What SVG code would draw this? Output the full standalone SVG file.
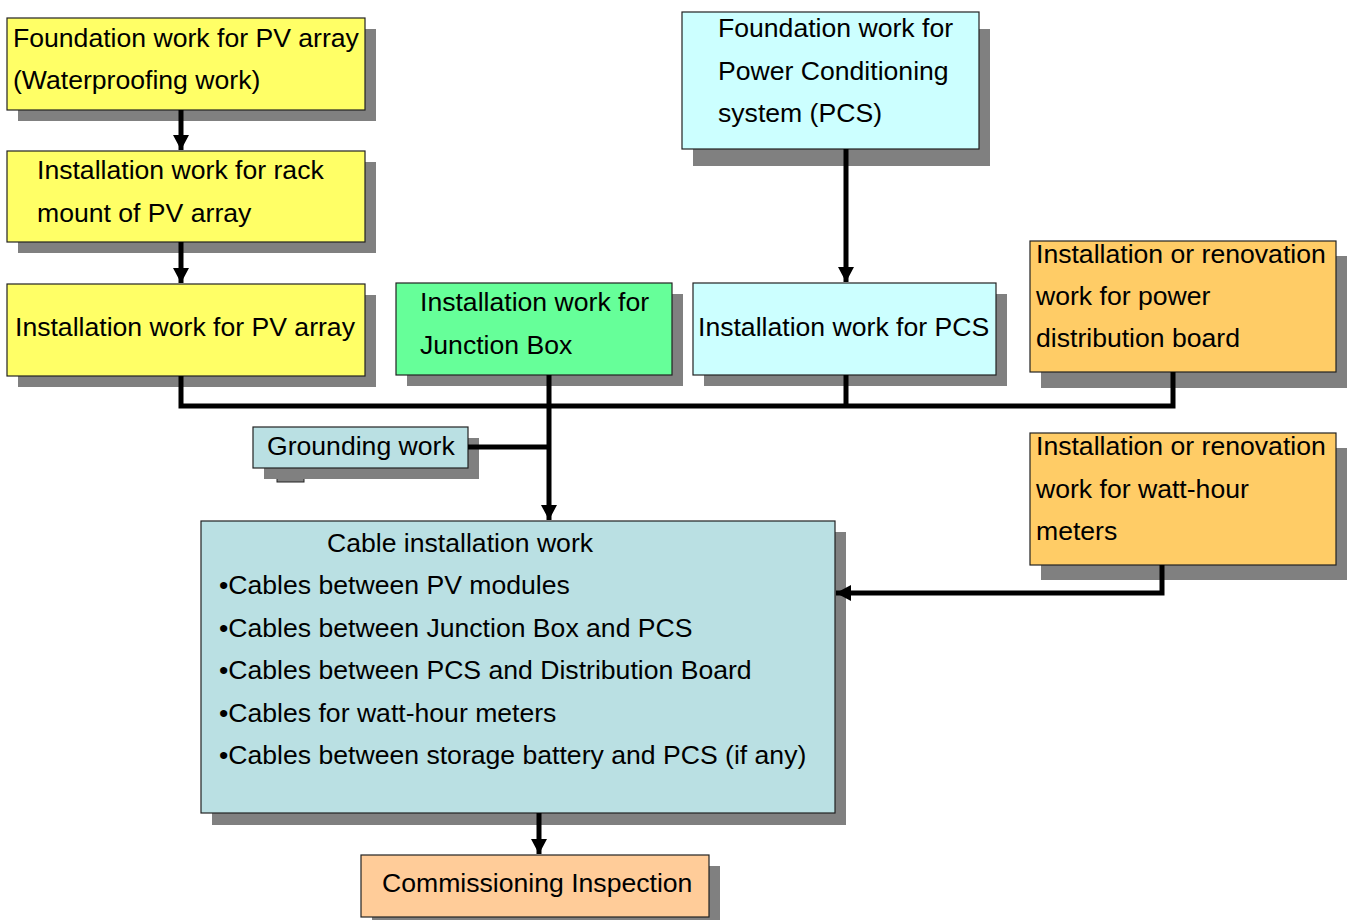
<svg xmlns="http://www.w3.org/2000/svg" width="1352" height="920" viewBox="0 0 1352 920">
<style>
text{font-family:"Liberation Sans",Arial,sans-serif;font-size:26.6px;fill:#000}
.sh{fill:#808080}
.bx{stroke:#222;stroke-width:1.2}
.y{fill:#FFFF66}.c{fill:#CCFFFF}.g{fill:#66FF99}.o{fill:#FFCC66}.b{fill:#BAE0E3}.p{fill:#FFCC99}
.ln{fill:none;stroke:#000;stroke-width:5}
</style>
<defs>
<marker id="ah" markerWidth="18" markerHeight="18" refX="15" refY="9" orient="auto" markerUnits="userSpaceOnUse">
<path d="M0,1 L15,9 L0,17 Z" fill="#000"/>
</marker>
</defs>
<rect width="1352" height="920" fill="#fff"/>
<g id="n1"><rect class="sh" x="18" y="29" width="358" height="92"/><rect class="bx y" x="7" y="18" width="358" height="92"/>
<text x="13" y="47">Foundation work for PV array</text><text x="13" y="89">(Waterproofing work)</text></g>
<g id="n2"><rect class="sh" x="18" y="162" width="358" height="91"/><rect class="bx y" x="7" y="151" width="358" height="91"/>
<text x="37" y="179">Installation work for rack</text><text x="37" y="222">mount of PV array</text></g>
<g id="n3"><rect class="sh" x="18" y="295" width="358" height="92"/><rect class="bx y" x="7" y="284" width="358" height="92"/>
<text x="15" y="336">Installation work for PV array</text></g>
<g id="n4"><rect class="sh" x="407" y="294" width="276" height="92"/><rect class="bx g" x="396" y="283" width="276" height="92"/>
<text x="420" y="311">Installation work for</text><text x="420" y="354">Junction Box</text></g>
<g id="n5"><rect class="sh" x="693" y="29" width="297" height="137"/><rect class="bx c" x="682" y="12" width="297" height="137"/>
<text x="718" y="37">Foundation work for</text><text x="718" y="80">Power Conditioning</text><text x="718" y="122">system (PCS)</text></g>
<g id="n6"><rect class="sh" x="704" y="294" width="303" height="92"/><rect class="bx c" x="693" y="283" width="303" height="92"/>
<text x="698" y="336">Installation work for PCS</text></g>
<g id="n7"><rect class="sh" x="1041" y="256" width="306" height="132"/><rect class="bx o" x="1030" y="241" width="306" height="131"/>
<text x="1036" y="263">Installation or renovation</text><text x="1036" y="305">work for power</text><text x="1036" y="347">distribution board</text></g>
<g id="n8"><rect class="sh" x="1041" y="448" width="306" height="132"/><rect class="bx o" x="1030" y="433" width="306" height="132"/>
<text x="1036" y="455">Installation or renovation</text><text x="1036" y="498">work for watt-hour</text><text x="1036" y="540">meters</text></g>
<g id="n9"><rect x="277" y="476" width="27" height="6" fill="#808080" stroke="#222" stroke-width="1"/><rect class="sh" x="264" y="438" width="215" height="41"/><rect class="bx b" x="253" y="427" width="215" height="41"/>
<text x="267" y="455">Grounding work</text></g>
<g id="n10"><rect class="sh" x="212" y="532" width="634" height="293"/><rect class="bx b" x="201" y="521" width="634" height="292"/>
<text x="327" y="552">Cable installation work</text>
<text x="219" y="594">•Cables between PV modules</text>
<text x="219" y="637">•Cables between Junction Box and PCS</text>
<text x="219" y="679">•Cables between PCS and Distribution Board</text>
<text x="219" y="722">•Cables for watt-hour meters</text>
<text x="219" y="764">•Cables between storage battery and PCS (if any)</text></g>
<g id="n11"><rect class="sh" x="372" y="866" width="348" height="60"/><rect class="bx p" x="361" y="855" width="348" height="62"/>
<text x="382" y="892">Commissioning Inspection</text></g>
<g id="connectors">
<path class="ln" d="M181,110 V150" marker-end="url(#ah)"/>
<path class="ln" d="M181,242 V283" marker-end="url(#ah)"/>
<path class="ln" d="M846,149 V282" marker-end="url(#ah)"/>
<path class="ln" d="M181,376 V406 H1173 V372"/>
<path class="ln" d="M846,375 V406"/>
<path class="ln" d="M549,375 V520" marker-end="url(#ah)"/>
<path class="ln" d="M468,447 H549"/>
<path class="ln" d="M1162,565 V593 H836" marker-end="url(#ah)"/>
<path class="ln" d="M539,813 V854" marker-end="url(#ah)"/>
</g>
</svg>
